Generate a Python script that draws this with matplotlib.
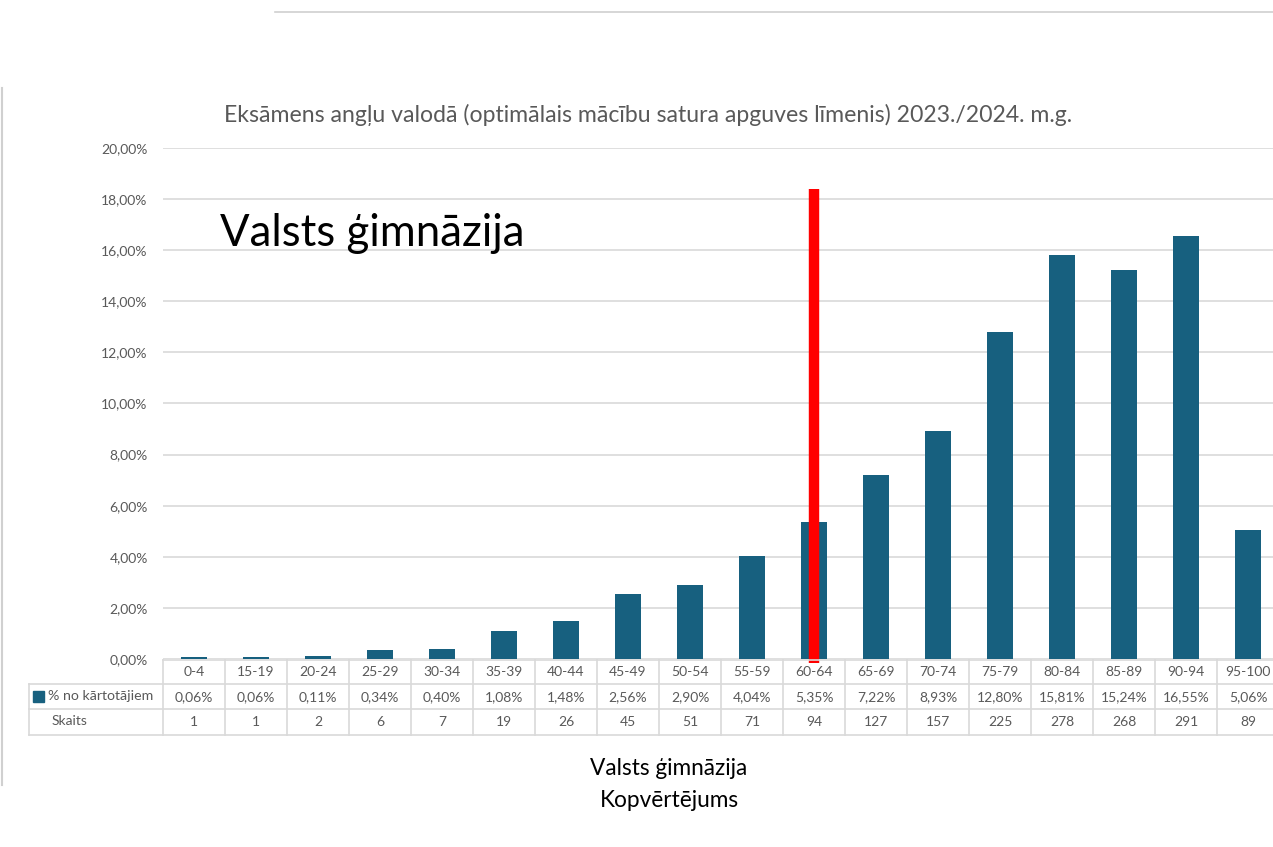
import matplotlib
matplotlib.use("Agg")
import matplotlib.pyplot as plt
from matplotlib.lines import Line2D
from matplotlib.patches import Rectangle
from matplotlib.transforms import blended_transform_factory

plt.rcParams['font.family'] = ['Lato', 'DejaVu Sans']

# ---- data ----
categories = ["0-4", "15-19", "20-24", "25-29", "30-34", "35-39", "40-44", "45-49",
              "50-54", "55-59", "60-64", "65-69", "70-74", "75-79", "80-84", "85-89",
              "90-94", "95-100"]
percent = [0.06, 0.06, 0.11, 0.34, 0.40, 1.08, 1.48, 2.56, 2.90, 4.04, 5.35, 7.22,
           8.93, 12.80, 15.81, 15.24, 16.55, 5.06]
counts = [1, 1, 2, 6, 7, 19, 26, 45, 51, 71, 94, 127, 157, 225, 278, 268, 291, 89]
y_ticks = [0, 2, 4, 6, 8, 10, 12, 14, 16, 18, 20]
threshold_category = "60-64"
threshold_top = 18.4

title = "Eksāmens angļu valodā (optimālais mācību satura apguves līmenis) 2023./2024. m.g."
overlay_label = "Valsts ģimnāzija"
bottom_label_1 = "Valsts ģimnāzija"
bottom_label_2 = "Kopvērtējums"
series_label = "% no kārtotājiem"
count_label = "Skaits"

W, H = 1273, 847
BAR = "#17607f"
GRID = "#d9d9d9"
TXT = "#595959"

fig = plt.figure(figsize=(W / 100, H / 100), dpi=100)
fig.patch.set_facecolor("white")

def fy(px):
    return 1 - px / H

def fx(px):
    return px / W

left_px, right_px = 163, 163 + 18 * 62
top_px, base_px = 148, 659
ax = fig.add_axes([fx(left_px), fy(base_px), (right_px - left_px) / W, (base_px - top_px) / H])
ax.set_xlim(-0.5, len(categories) - 0.5)
ax.set_ylim(0, 20)
for s in ax.spines.values():
    s.set_visible(False)
ax.set_yticks(y_ticks)
ax.set_yticklabels([f"{v:.2f}".replace(".", ",") + "%" for v in y_ticks],
                   fontsize=10, color=TXT)
ax.tick_params(axis="y", length=0, pad=11)
ax.set_xticks([])
ax.yaxis.grid(True, color=GRID, lw=1.2)
ax.set_axisbelow(True)

x = list(range(len(categories)))
ax.bar(x, percent, width=0.43, color=BAR, zorder=3)

# threshold red line
ti = categories.index(threshold_category)
ax.vlines(ti, -0.16, threshold_top, color="#ff0000", lw=7.5, zorder=5, clip_on=False)

# ---- data table ----
bt = blended_transform_factory(ax.transData, fig.transFigure)
rows_px = [660, 684, 709, 735]
for i, ypx in enumerate(rows_px):
    fig.add_artist(Line2D([fx(163 if i == 0 else 29), 1.0], [fy(ypx), fy(ypx)],
                          transform=fig.transFigure, color=GRID, lw=1.2))
fig.add_artist(Line2D([fx(29), fx(29)], [fy(684), fy(735)], transform=fig.transFigure,
                      color=GRID, lw=1.2))
for k in range(len(categories) + 1):
    ax.add_artist(Line2D([k - 0.5, k - 0.5], [fy(660), fy(735)], transform=bt,
                         color=GRID, lw=1.2, clip_on=False))

for i, c in enumerate(categories):
    ax.text(i, fy(672), c, transform=bt, ha="center", va="center", fontsize=10, color=TXT)
    ax.text(i, fy(697), f"{percent[i]:.2f}".replace(".", ",") + "%", transform=bt,
            ha="center", va="center", fontsize=10, color=TXT)
    ax.text(i, fy(722), str(counts[i]), transform=bt, ha="center", va="center",
            fontsize=10, color=TXT)

fig.add_artist(Rectangle((fx(33), fy(702)), 11 / W, 11 / H, transform=fig.transFigure,
                         color=BAR))
fig.text(fx(48), fy(696), series_label, ha="left", va="center", fontsize=10.2, color=TXT)
fig.text(fx(52), fy(721), count_label, ha="left", va="center", fontsize=10, color=TXT)

# ---- texts ----
fig.text(fx(648), fy(115), title, ha="center", va="center", fontsize=16.6, color=TXT)
fig.text(fx(220), fy(233), overlay_label, ha="left", va="center", fontsize=31.5, color="black")
fig.text(fx(669), fy(768), bottom_label_1, ha="center", va="center", fontsize=16.3, color="black")
fig.text(fx(669), fy(800), bottom_label_2, ha="center", va="center", fontsize=16.3, color="black")

# decorative frame lines
fig.add_artist(Line2D([fx(275), 1.0], [fy(12), fy(12)], transform=fig.transFigure,
                      color="#d0d0d0", lw=1.2))
fig.add_artist(Line2D([fx(1.5), fx(1.5)], [fy(88), fy(785)], transform=fig.transFigure,
                      color="#d0d0d0", lw=1.5))

fig.savefig("out.png", dpi=100, facecolor="white")
